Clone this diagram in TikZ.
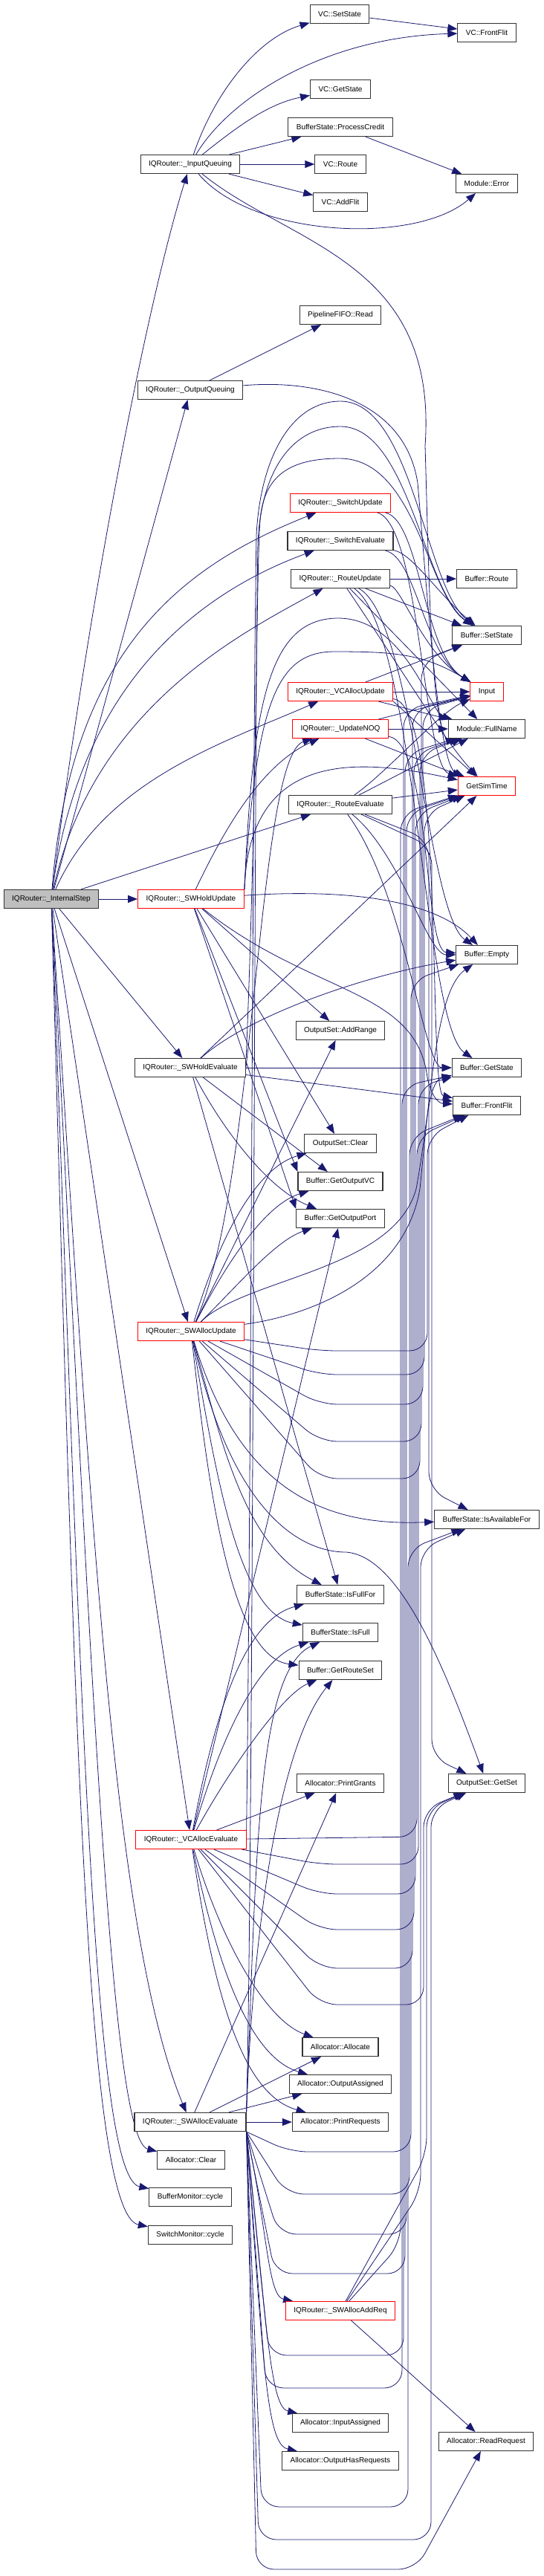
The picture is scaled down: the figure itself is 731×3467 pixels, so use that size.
\documentclass[tikz,border=0pt]{standalone}
\usepackage{fontspec}
\setmainfont{Liberation Sans}
\usetikzlibrary{arrows.meta, backgrounds}
\definecolor{edgeblue}{HTML}{191970}
\tikzset{
  fn/.style={draw=black!80, line width=1.1pt, fill=white, minimum height=25pt, inner xsep=11pt, inner ysep=0pt, font=\fontsize{10}{12}\selectfont},
  fnred/.style={fn, draw=red},
  fnroot/.style={fn, fill=black!25},
  call/.style={draw=edgeblue, line width=0.8pt, -{Triangle[length=13pt,width=10pt]}},
  detour/.style={call, rounded corners=24pt}
}
\begin{document}
\begin{tikzpicture}[x=1pt,y=1pt]
\useasboundingbox (0,0) rectangle (731,-3467);
\node[fnroot] (is) at (69,-1210) {IQRouter::\_InternalStep};
\node[fn] (iq) at (256,-221) {IQRouter::\_InputQueuing};
\node[fn] (oq) at (256,-525) {IQRouter::\_OutputQueuing};
\node[fnred] (shu) at (257,-1210) {IQRouter::\_SWHoldUpdate};
\node[fn] (she) at (256,-1437) {IQRouter::\_SWHoldEvaluate};
\node[fnred] (sau) at (257,-1792) {IQRouter::\_SWAllocUpdate};
\node[fnred] (vae) at (257,-2476) {IQRouter::\_VCAllocEvaluate};
\node[fn] (sae) at (256,-2856) {IQRouter::\_SWAllocEvaluate};
\node[fn] (aclr) at (257,-2907) {Allocator::Clear};
\node[fn] (bmc) at (256,-2957) {BufferMonitor::cycle};
\node[fn] (smc) at (256,-3008) {SwitchMonitor::cycle};
\node[fn] (vcss) at (457,-19) {VC::SetState};
\node[fn] (vcgs) at (458,-120) {VC::GetState};
\node[fn] (bspc) at (458,-171) {BufferState::ProcessCredit};
\node[fn] (vcr) at (458,-221) {VC::Route};
\node[fn] (vcaf) at (458,-272) {VC::AddFlit};
\node[fn] (pfr) at (458,-424) {PipelineFIFO::Read};
\node[fnred] (swu) at (458,-677) {IQRouter::\_SwitchUpdate};
\node[fn] (swe) at (458,-728) {IQRouter::\_SwitchEvaluate};
\node[fn] (ru) at (458,-779) {IQRouter::\_RouteUpdate};
\node[fnred] (vau) at (458,-931) {IQRouter::\_VCAllocUpdate};
\node[fnred] (noq) at (458,-981) {IQRouter::\_UpdateNOQ};
\node[fn] (re) at (458,-1083) {IQRouter::\_RouteEvaluate};
\node[fn] (osar) at (458,-1387) {OutputSet::AddRange};
\node[fn] (osc) at (458,-1539) {OutputSet::Clear};
\node[fn] (bgov) at (458,-1590) {Buffer::GetOutputVC};
\node[fn] (bgop) at (458,-1640) {Buffer::GetOutputPort};
\node[fn] (bsiff) at (458,-2146) {BufferState::IsFullFor};
\node[fn] (bsif) at (458,-2197) {BufferState::IsFull};
\node[fn] (bgrs) at (458,-2248) {Buffer::GetRouteSet};
\node[fn] (apg) at (458,-2400) {Allocator::PrintGrants};
\node[fn] (aal) at (458,-2755) {Allocator::Allocate};
\node[fn] (aoa) at (458,-2805) {Allocator::OutputAssigned};
\node[fn] (apr) at (458,-2856) {Allocator::PrintRequests};
\node[fnred] (saar) at (458,-3110) {IQRouter::\_SWAllocAddReq};
\node[fn] (aia) at (458,-3261) {Allocator::InputAssigned};
\node[fn] (aohr) at (458,-3312) {Allocator::OutputHasRequests};
\node[fn] (vcff) at (655,-44) {VC::FrontFlit};
\node[fn] (merr) at (655,-247) {Module::Error};
\node[fn] (brt) at (655,-779) {Buffer::Route};
\node[fn] (bss) at (655,-855) {Buffer::SetState};
\node[fnred] (inp) at (655,-931) {Input};
\node[fn] (mfn) at (655,-981) {Module::FullName};
\node[fnred] (gst) at (655,-1058) {GetSimTime};
\node[fn] (bem) at (655,-1285) {Buffer::Empty};
\node[fn] (bgs) at (655,-1437) {Buffer::GetState};
\node[fn] (bff) at (655,-1488) {Buffer::FrontFlit};
\node[fn] (bsiaf) at (655,-2045) {BufferState::IsAvailableFor};
\node[fn] (osgs) at (655,-2400) {OutputSet::GetSet};
\node[fn] (arr) at (654,-3286) {Allocator::ReadRequest};
\begin{scope}[on background layer]
\draw[call] (is) .. controls (120,-800) and (200,-400) .. (iq);
\draw[call] (is) -- (oq);
\draw[call] (is) .. controls (95,-870) and (250,-760) .. (swu);
\draw[call] (is) .. controls (110,-900) and (290,-790) .. (swe);
\draw[call] (is) .. controls (125,-950) and (330,-850) .. (ru);
\draw[call] (is) .. controls (140,-1050) and (300,-1000) .. (vau);
\draw[call] (is) -- (re);
\draw[call] (is) -- (shu);
\draw[call] (is) -- (she);
\draw[call] (is) -- (sau);
\draw[call] (is) -- (vae);
\draw[call] (is) .. controls (120,-2000) and (150,-2600) .. (sae);
\draw[call] (is) .. controls (125,-2300) and (150,-2880) .. (aclr);
\draw[call] (is) .. controls (110,-2300) and (125,-2930) .. (bmc);
\draw[call] (is) .. controls (100,-2300) and (115,-2980) .. (smc);
\draw[call] (iq) .. controls (290,-120) and (350,-50) .. (vcss);
\draw[call] (iq) .. controls (310,-130) and (440,-50) .. (vcff);
\draw[call] (iq) .. controls (320,-170) and (360,-140) .. (vcgs);
\draw[call] (iq) -- (bspc);
\draw[call] (iq) -- (vcr);
\draw[call] (iq) -- (vcaf);
\draw[call] (iq) .. controls (340,-320) and (560,-330) .. (merr);
\draw[call] (iq) .. controls (390,-330) and (590,-350) .. (572,-600) .. controls (578,-800) and (580,-1010) .. (mfn);
\draw[call] (vcss) -- (vcff);
\draw[call] (bspc) -- (merr);
\draw[call] (oq) -- (pfr);
\draw[call] (oq) .. controls (430,-510) and (545,-540) .. (562,-650) .. controls (575,-800) and (590,-1030) .. (gst);
\draw[call] (ru) -- (brt);
\draw[call] (ru) -- (bss);
\draw[call] (ru) .. controls (540,-790) and (570,-880) .. (inp);
\draw[call] (ru) -- (mfn);
\draw[call] (ru) .. controls (540,-900) and (600,-1000) .. (gst);
\draw[call] (ru) .. controls (555,-830) and (575,-1230) .. (bem);
\draw[call] (ru) .. controls (560,-850) and (570,-1380) .. (bgs);
\draw[call] (swu) .. controls (565,-700) and (570,-880) .. (inp);
\draw[call] (swu) .. controls (565,-705) and (570,-1030) .. (gst);
\draw[call] (swe) .. controls (555,-745) and (590,-800) .. (bss);
\draw[call] (swe) .. controls (560,-750) and (570,-880) .. (inp);
\draw[call] (vau) -- (inp);
\draw[call] (vau) -- (bss);
\draw[call] (vau) -- (mfn);
\draw[call] (vau.south east) -- (gst);
\draw[call] (vau) .. controls (600,-950) and (575,-1470) .. (bff);
\draw[call] (noq) -- (mfn);
\draw[call] (noq) -- (inp);
\draw[call] (noq) -- (gst);
\draw[call] (noq) .. controls (580,-1000) and (570,-1280) .. (bem);
\draw[call] (re) -- (gst);
\draw[call] (re) -- (mfn);
\draw[call] (re) .. controls (520,-1040) and (590,-960) .. (inp);
\draw[call] (re) .. controls (540,-1150) and (575,-1285) .. (bem);
\draw[call] (re) .. controls (545,-1200) and (570,-1437) .. (bgs);
\draw[detour] (re) -- (577,-1130) -- (577,-2005) -- (bsiaf);
\draw[detour] (re) -- (581,-1140) -- (581,-2365) -- (osgs);
\draw[call] (shu) -- (osar);
\draw[call] (shu) -- (osc);
\draw[call] (shu) -- (bgov.north west);
\draw[call] (shu) -- (bgop.north west);
\draw[call] (shu) .. controls (480,-1195) and (590,-1215) .. (bem);
\draw[call] (shu) .. controls (420,-1340) and (560,-1330) .. (575,-1450) .. controls (580,-1475) and (590,-1485) .. (bff);
\draw[call] (shu.north east) .. controls (335,-1010) and (480,-1020) .. (gst);
\draw[call] (shu.north east) .. controls (345,-950) and (370,-877) .. (450,-877) .. controls (530,-877) and (570,-880) .. (inp);
\draw[call] (shu.north east) .. controls (340,-950) and (360,-832) .. (455,-832) .. controls (545,-832) and (580,-960) .. (mfn);
\draw[call] (shu) .. controls (300,-1120) and (350,-1030) .. (noq);
\draw[call] (she) -- (bgs);
\draw[call] (she) -- (bff);
\draw[call] (she) .. controls (330,-1370) and (480,-1315) .. (bem);
\draw[call] (she) -- (bgov);
\draw[call] (she) .. controls (300,-1520) and (360,-1600) .. (bgop);
\draw[call] (she) -- (gst);
\draw[call] (she) -- (bsiff);
\draw[call] (she.north east) .. controls (345,-1100) and (345,-760) .. (350,-700) .. controls (355,-640) and (390,-617) .. (457,-617) .. controls (560,-617) and (575,-800) .. (bss);
\draw[call] (sau) -- (osar);
\draw[call] (sau) .. controls (300,-1650) and (350,-1570) .. (osc);
\draw[call] (sau) .. controls (310,-1690) and (360,-1620) .. (bgov);
\draw[call] (sau) .. controls (320,-1730) and (370,-1670) .. (bgop);
\draw[call] (sau) .. controls (330,-1720) and (530,-1710) .. (560,-1600) .. controls (575,-1520) and (575,-1455) .. (bgs);
\draw[call] (sau) .. controls (420,-1770) and (545,-1720) .. (565,-1600) .. controls (580,-1450) and (590,-1330) .. (bem);
\draw[call] (sau) .. controls (300,-1950) and (330,-2080) .. (bsiff);
\draw[call] (sau) .. controls (290,-1980) and (320,-2170) .. (bsif);
\draw[call] (sau) .. controls (280,-2000) and (310,-2230) .. (bgrs);
\draw[call] (sau) .. controls (345,-1600) and (345,-1020) .. (noq);
\draw[call] (sau) .. controls (320,-2000) and (430,-2055) .. (bsiaf);
\draw[call] (sau) .. controls (310,-2030) and (400,-2089) .. (466,-2089) .. controls (540,-2095) and (600,-2250) .. (osgs);
\draw[detour] (sau) -- (430,-1818) -- (575,-1818) -- (575,-1530) -- (bff);
\draw[detour] (sau) -- (430,-1850) -- (571,-1850) -- (571,-1095) -- (gst);
\draw[detour] (sau) -- (430,-1890) -- (569,-1890) -- (569,-955) -- (inp);
\draw[detour] (sau) -- (430,-1940) -- (567,-1940) -- (567,-890) -- (bss);
\draw[detour] (sau) -- (430,-1990) -- (565,-1990) -- (565,-1015) -- (mfn);
\draw[call] (vae) -- (apg);
\draw[detour] (vae) -- (561,-2472) -- (561,-1530) -- (bff);
\draw[call] (vae) .. controls (300,-2620) and (360,-2720) .. (aal);
\draw[call] (vae) .. controls (295,-2660) and (340,-2770) .. (aoa);
\draw[call] (vae) .. controls (290,-2700) and (330,-2820) .. (apr);
\draw[call] (vae) .. controls (290,-2300) and (330,-2180) .. (bsiff);
\draw[call] (vae) .. controls (300,-2330) and (350,-2230) .. (bsif);
\draw[call] (vae) .. controls (310,-2380) and (380,-2280) .. (bgrs);
\draw[call] (vae) -- (bgop);
\draw[detour] (vae) -- (430,-2509) -- (563,-2509) -- (563,-1462) -- (bgs);
\draw[detour] (vae) -- (430,-2549) -- (559,-2549) -- (559,-1095) -- (gst);
\draw[detour] (vae) -- (430,-2597) -- (557,-2597) -- (557,-1015) -- (mfn);
\draw[detour] (vae) -- (430,-2649) -- (555,-2649) -- (555,-955) -- (inp);
\draw[detour] (vae) -- (430,-2698) -- (570,-2698) -- (570,-2435) -- (osgs);
\draw[call] (vae.north east) .. controls (338,-2000) and (340,-1000) .. (345,-720) .. controls (350,-620) and (390,-540) .. (458,-540) .. controls (555,-540) and (572,-790) .. (bss);
\draw[call] (sae) -- (aal);
\draw[call] (sae) -- (aoa);
\draw[call] (sae) -- (apr);
\draw[call] (sae) -- (apg);
\draw[call] (sae.north east) .. controls (345,-2500) and (345,-2250) .. (bsif);
\draw[call] (sae.north east) .. controls (340,-2600) and (375,-2350) .. (bgrs);
\draw[call] (sae.north east) .. controls (341,-2500) and (342,-1000) .. (347,-730) .. controls (352,-630) and (395,-574) .. (458,-574) .. controls (550,-574) and (570,-795) .. (bss);
\draw[call] (sae.south east) .. controls (360,-3000) and (360,-3090) .. (saar);
\draw[call] (sae.south east) .. controls (360,-3150) and (365,-3240) .. (aia);
\draw[call] (sae.south east) .. controls (355,-3200) and (360,-3290) .. (aohr);
\draw[detour] (sae.south east) -- (390,-2896) -- (553,-2896) -- (553,-1320) -- (bem);
\draw[detour] (sae.south east) -- (385,-2953) -- (551,-2953) -- (551,-1530) -- (bff);
\draw[detour] (sae.south east) -- (375,-3007) -- (547,-3007) -- (547,-1095) -- (gst);
\draw[detour] (sae.south east) -- (370,-3060) -- (545,-3060) -- (545,-1015) -- (mfn);
\draw[detour] (sae.south east) -- (362,-3170) -- (543,-3170) -- (543,-955) -- (inp);
\draw[detour] (sae.south east) -- (358,-3214) -- (541,-3214) -- (541,-1462) -- (bgs);
\draw[detour] (sae.south east) -- (352,-3374) -- (549,-3374) -- (549,-2085) -- (bsiaf);
\draw[detour] (sae.south east) -- (348,-3418) -- (580,-3418) -- (580,-2435) -- (osgs);
\draw[detour] (sae.south east) -- (345,-3458) -- (560,-3458) -- (arr);
\draw[call] (saar) -- (arr);
\draw[detour] (saar) -- (539,-3020) -- (539,-1095) -- (gst);
\draw[detour] (saar) -- (566,-2950) -- (566,-2085) -- (bsiaf);
\draw[detour] (saar) -- (574,-2900) -- (574,-2435) -- (osgs);
\end{scope}
\end{tikzpicture}
\end{document}
